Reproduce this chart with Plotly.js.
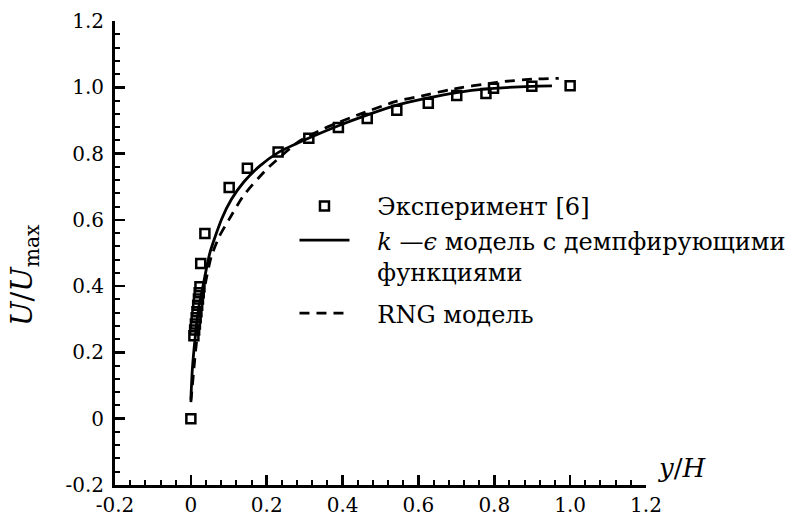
<!DOCTYPE html>
<html>
<head>
<meta charset="utf-8">
<script src="https://cdn.plot.ly/plotly-3.0.1.min.js"></script>
<style>html,body{margin:0;padding:0;background:#fff;}</style>
</head>
<body>
<div id="chart" style="width:806px;height:520px;"></div>
<script>
// Experimental data [6]
const expX = [0.0, 0.008, 0.010, 0.012, 0.014, 0.016, 0.018, 0.020, 0.022, 0.024, 0.026, 0.037, 0.101, 0.149, 0.230, 0.311, 0.389, 0.465, 0.543, 0.626, 0.701, 0.778, 0.798, 0.899, 1.0];
const expY = [0.0, 0.250, 0.268, 0.286, 0.305, 0.323, 0.342, 0.361, 0.380, 0.398, 0.468, 0.559, 0.698, 0.756, 0.805, 0.846, 0.879, 0.906, 0.931, 0.952, 0.975, 0.981, 0.997, 1.003, 1.005];
// k-epsilon model with damping functions
const keX = [0.0, 0.004, 0.011, 0.020, 0.032, 0.050, 0.081, 0.107, 0.140, 0.182, 0.230, 0.310, 0.389, 0.464, 0.543, 0.626, 0.701, 0.780, 0.899, 0.952];
const keY = [0.058, 0.150, 0.240, 0.330, 0.400, 0.500, 0.602, 0.662, 0.715, 0.763, 0.803, 0.846, 0.884, 0.916, 0.946, 0.968, 0.984, 0.995, 1.003, 1.004];
// RNG model
const rngX = [0.0, 0.012, 0.022, 0.032, 0.042, 0.054, 0.075, 0.100, 0.138, 0.200, 0.288, 0.358, 0.446, 0.543, 0.613, 0.683, 0.807, 0.903, 0.970];
const rngY = [0.050, 0.200, 0.300, 0.370, 0.430, 0.490, 0.550, 0.600, 0.672, 0.753, 0.839, 0.879, 0.919, 0.958, 0.975, 0.993, 1.015, 1.025, 1.027];
// Tick labels
const tickVals = [-0.2, 0, 0.2, 0.4, 0.6, 0.8, 1.0, 1.2];
const tickText = ["-0.2", "0", "0.2", "0.4", "0.6", "0.8", "1.0", "1.2"];
const names = ["Эксперимент [6]", "<i>k</i> —<i>ϵ</i> модель с демпфирующими<br>функциями", "RNG модель"];

const FONT = "DejaVu Serif";
const pad = "\u00a0\u00a0\u00a0";

const traces = [
  {x: expX, y: expY, type: 'scatter', mode: 'markers', name: pad + names[0], legend: 'legend',
   marker: {symbol: 'square-open', size: 9, color: '#000', line: {width: 2.5, color: '#000'}}},
  {x: keX, y: keY, type: 'scatter', mode: 'lines', name: pad + names[1].replace('<br>', '<br>' + pad), legend: 'legend',
   line: {color: '#000', width: 2.8, shape: 'spline', smoothing: 0.6}},
  {x: rngX, y: rngY, type: 'scatter', mode: 'lines', name: pad + names[2], legend: 'legend2',
   line: {color: '#000', width: 2.8, dash: '10px,7px', shape: 'spline', smoothing: 0.6}}
];

function axis() {
  return {
    range: [-0.2, 1.2], tickvals: tickVals, ticktext: tickText,
    ticks: 'inside', ticklen: 10, tickwidth: 2.5, tickcolor: '#000',
    showline: true, linewidth: 3, linecolor: '#000',
    showgrid: false, zeroline: false, fixedrange: true,
    tickfont: {family: FONT, size: 20, color: '#000'},
    minor: {ticks: 'inside', ticklen: 5, tickwidth: 2, tickcolor: '#000', dtick: 0.04, tick0: -0.2, showgrid: false}
  };
}

const xa = axis();
xa.ticklabelstandoff = 0;
const ya = axis();
ya.ticklabelstandoff = 4;

const legFont = {family: FONT, size: 24, color: '#000'};
const layout = {
  width: 806, height: 520,
  margin: {l: 115, r: 160, t: 21, b: 35},
  paper_bgcolor: '#fff', plot_bgcolor: '#fff',
  font: {family: FONT, size: 20, color: '#000'},
  xaxis: xa, yaxis: ya,
  showlegend: true,
  legend: {x: 0.338, y: 0.649, xanchor: 'left', yanchor: 'top', bgcolor: 'rgba(0,0,0,0)',
           font: legFont, itemwidth: 50, valign: 'top'},
  legend2: {x: 0.338, y: 0.418, xanchor: 'left', yanchor: 'top', bgcolor: 'rgba(0,0,0,0)',
           font: legFont, itemwidth: 50, valign: 'top'},
  annotations: [
    {xref: 'paper', yref: 'paper', x: -0.17, y: 0.452, xanchor: 'center', yanchor: 'middle',
     text: '<i>U</i>/<i>U</i><sub>max</sub>', textangle: -90, showarrow: false,
     font: {family: FONT, size: 29, color: '#000'}},
    {xref: 'paper', yref: 'paper', x: 1.0, y: 0.0, xanchor: 'left', yanchor: 'bottom', xshift: 10,
     text: '<i>y</i>/<i>H</i>', showarrow: false,
     font: {family: FONT, size: 26, color: '#000'}}
  ]
};

Plotly.newPlot('chart', traces, layout, {displayModeBar: false, staticPlot: true});
</script>
</body>
</html>
